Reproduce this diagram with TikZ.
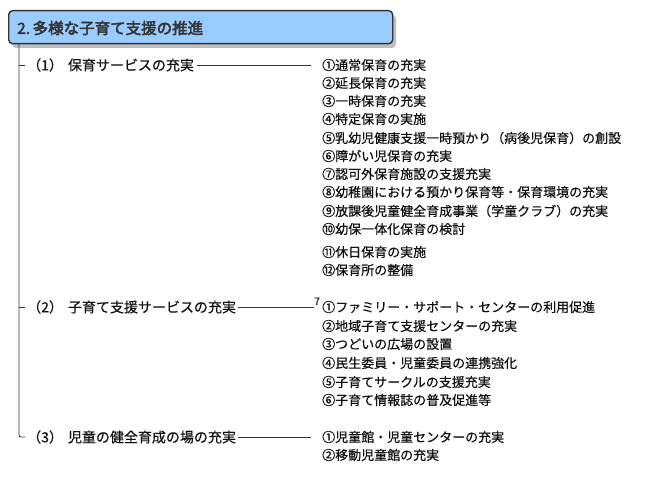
\documentclass[tikz,border=0pt]{standalone}
\usepackage{fontspec}
\newfontfamily\jp[FakeBold=0.4]{Noto Sans CJK JP}
\newfontfamily\jpb[FakeBold=3]{Noto Sans CJK JP}
\definecolor{titlefill}{HTML}{99CCFF}
\definecolor{ink}{HTML}{111111}
\definecolor{edge}{HTML}{333333}
\begin{document}
\begin{tikzpicture}[x=1pt,y=-1pt,
  branch/.style={anchor=west,inner sep=0pt,font=\jp\fontsize{14}{14}\selectfont,text=ink},
  item/.style={anchor=west,inner sep=0pt,font=\jp\fontsize{13}{13}\selectfont,text=ink},
  conn/.style={draw=edge,line width=0.9pt},
  thinconn/.style={draw=edge,line width=0.6pt}]
\useasboundingbox (0,0) rectangle (650,481);
\fill[white] (0,0) rectangle (650,481);
% title
\fill[gray!50,rounded corners=4pt] (12,15) rectangle (396,48);
\node[draw=edge,line width=1.4pt,fill=titlefill,rounded corners=4pt,anchor=north west,
      minimum width=384pt,minimum height=33pt,inner sep=0pt] (title) at (8,10) {};
\node[anchor=west,inner sep=0pt,font=\jpb\fontsize{15.5}{15.5}\selectfont,text=ink!85] (ttext) at (17,28) {2.\,多様な子育て支援の推進};
% branches
\node[branch] (b1) at (27,65) {（1）\hspace{5pt}保育サービスの充実};
\node[branch] (b2) at (27,307) {（2）\hspace{5pt}子育て支援サービスの充実};
\node[branch] (b3) at (27,437) {（3）\hspace{5pt}児童の健全育成の場の充実};
% trunk
\coordinate (tt) at (19,43);
\draw[conn,rounded corners=2pt] (tt) |- ([xshift=-2pt]b3.west);
\draw[conn] (19,65) -- ([xshift=-2pt]b1.west);
\draw[conn] (19,307) -- ([xshift=-2pt]b2.west);
% items (1)
\foreach \n/\y/\t in {a1/65/①通常保育の充実, a2/83/②延長保育の充実, a3/101/③一時保育の充実,
  a4/119/④特定保育の実施, a5/138/⑤乳幼児健康支援一時預かり（病後児保育）の創設,
  a6/156/⑥障がい児保育の充実, a7/174/⑦認可外保育施設の支援充実,
  a8/192/⑧幼稚園における預かり保育等・保育環境の充実,
  a9/211/⑨放課後児童健全育成事業（学童クラブ）の充実, a10/229/⑩幼保一体化保育の検討,
  a11/252/⑪休日保育の実施, a12/270/⑫保育所の整備}
  {\node[item] (\n) at (322,\y) {\t};}
% items (2)
\foreach \n/\y/\t in {c1/307/①ファミリー・サポート・センターの利用促進, c2/326/②地域子育て支援センターの充実,
  c3/344/③つどいの広場の設置, c4/363/④民生委員・児童委員の連携強化,
  c5/382/⑤子育てサークルの支援充実, c6/400/⑥子育て情報誌の普及促進等}
  {\node[item] (\n) at (322,\y) {\t};}
% items (3)
\foreach \n/\y/\t in {d1/437/①児童館・児童センターの充実, d2/455/②移動児童館の充実}
  {\node[item] (\n) at (322,\y) {\t};}
% connectors
\draw[conn] ([xshift=3pt]b1.east) -- ([xshift=-11pt]a1.west);
\draw[thinconn] ([xshift=2pt]b2.east) -- ([xshift=-8pt]c1.west);
\draw[conn] ([xshift=2pt]b3.east) -- ([xshift=-11pt]d1.west);
\node[anchor=south west,inner sep=0pt,font=\jp\fontsize{10}{10}\selectfont,text=ink] (seven) at (314,305) {7};
\end{tikzpicture}
\end{document}
